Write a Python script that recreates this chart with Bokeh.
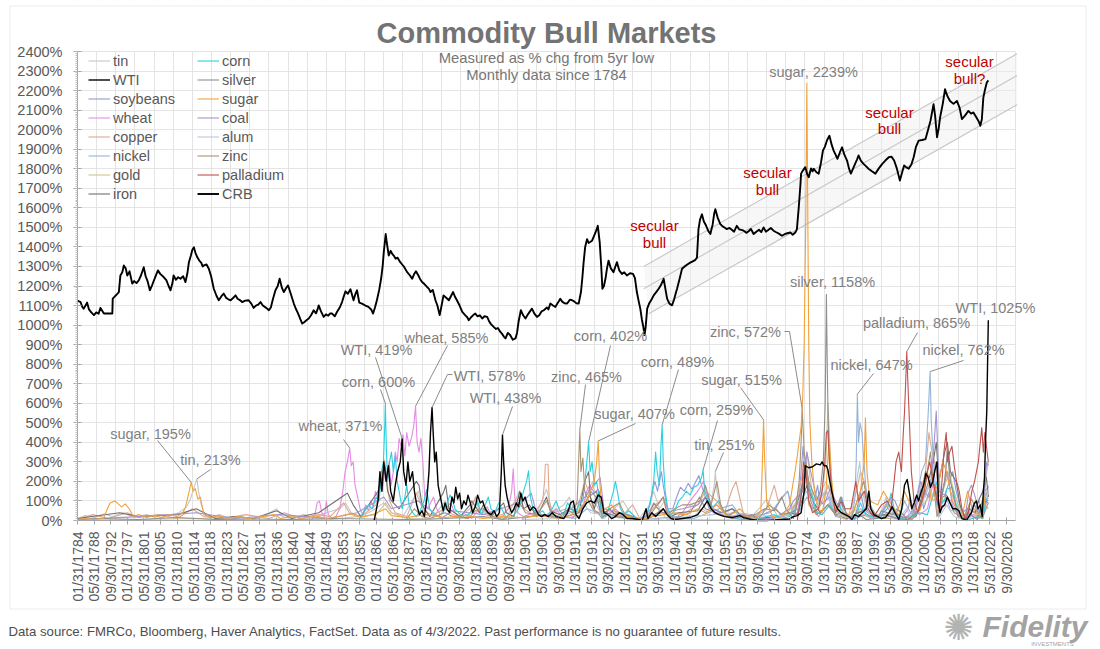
import math
from bokeh.plotting import figure
from bokeh.models import (Label, FixedTicker, SingleIntervalTicker, PrintfTickFormatter,
                          Legend, LegendItem, BoxAnnotation, Range1d)
from bokeh.embed import file_html
from bokeh.resources import INLINE

# ---------------------------------------------------------------- data
x_tick_labels = [
    "01/31/1784", "05/31/1788", "09/30/1792", "01/31/1797", "05/31/1801", "09/30/1805",
    "01/31/1810", "05/31/1814", "09/30/1818", "01/31/1823", "05/31/1827", "09/30/1831", "01/31/1836",
    "05/31/1840", "09/30/1844", "01/31/1849", "05/31/1853", "09/30/1857", "01/31/1862", "05/31/1866",
    "09/30/1870", "01/31/1875", "05/31/1879", "09/30/1883", "01/31/1888", "05/31/1892", "09/30/1896",
    "1/31/1901", "5/31/1905", "9/30/1909", "1/31/1914", "5/31/1918", "9/30/1922", "1/31/1927",
    "5/31/1931", "9/30/1935", "1/31/1940", "5/31/1944", "9/30/1948", "1/31/1953", "5/31/1957",
    "9/30/1961", "1/31/1966", "5/31/1970", "9/30/1974", "1/31/1979", "5/31/1983", "9/30/1987",
    "1/31/1992", "5/31/1996", "9/30/2000", "1/31/2005", "5/31/2009", "9/30/2013", "1/31/2018",
    "5/31/2022", "9/30/2026"]

crb = [(1784.0,1125),(1784.8,1118),(1785.2,1095),(1785.6,1084),(1786.1,1100),(1786.5,1115),(1787.0,1080),
(1787.6,1065),(1788.3,1051),(1788.9,1065),(1789.5,1058),(1790.0,1088),(1790.4,1075),(1790.9,1059),(1793.1,1059),
(1793.2,1135),(1793.9,1150),(1794.4,1160),(1794.8,1169),(1795.2,1254),(1795.7,1270),(1796.1,1305),(1796.6,1290),
(1797.0,1254),(1797.6,1275),(1798.3,1212),(1798.8,1225),(1799.4,1215),(1800.0,1229),(1800.6,1255),(1801.3,1296),
(1801.8,1250),(1802.3,1225),(1802.9,1178),(1803.5,1205),(1804.2,1240),(1805.0,1280),(1805.6,1262),(1806.5,1246),
(1807.2,1230),(1807.8,1200),(1808.3,1178),(1808.8,1215),(1809.1,1254),(1809.7,1232),(1810.3,1245),(1810.9,1237),
(1811.6,1250),(1812.2,1220),(1812.7,1265),(1813.1,1322),(1813.6,1355),(1814.0,1385),(1814.4,1398),(1814.8,1370),
(1815.3,1347),(1815.8,1330),(1816.3,1320),(1816.7,1300),(1817.0,1305),(1817.7,1310),(1818.3,1288),(1818.9,1250),
(1819.6,1186),(1820.3,1150),(1820.9,1127),(1821.6,1148),(1822.2,1161),(1822.8,1140),(1823.4,1132),(1824.0,1127),
(1824.7,1140),(1825.3,1152),(1825.8,1135),(1826.4,1128),(1827.0,1118),(1827.8,1125),(1828.7,1127),(1829.4,1110),
(1830.0,1088),(1830.6,1100),(1831.2,1105),(1831.8,1118),(1832.4,1100),(1833.0,1092),(1833.5,1085),(1834.0,1076),
(1834.5,1090),(1835.0,1130),(1835.7,1178),(1836.3,1200),(1836.8,1237),(1837.4,1190),(1837.9,1169),(1838.5,1190),
(1839.0,1203),(1839.7,1160),(1840.5,1110),(1841.0,1085),(1841.6,1060),(1842.2,1030),(1842.7,1008),(1843.2,1015),
(1843.8,1025),(1844.4,1034),(1845.0,1050),(1845.7,1076),(1846.3,1060),(1846.7,1080),(1847.0,1101),(1847.6,1070),
(1848.3,1042),(1848.9,1055),(1849.5,1048),(1850.0,1060),(1850.5,1059),(1851.2,1045),(1851.8,1068),(1852.5,1090),
(1853.1,1118),(1853.6,1150),(1854.0,1173),(1854.6,1160),(1855.3,1183),(1856.1,1127),(1856.6,1160),(1857.0,1178),
(1857.6,1115),(1858.3,1110),(1859.2,1100),(1860.0,1093),(1860.7,1080),(1861.2,1059),(1861.7,1090),(1862.2,1127),
(1862.8,1180),(1863.3,1237),(1863.7,1300),(1864.0,1373),(1864.5,1466),(1864.8,1420),(1865.3,1356),(1865.8,1380),
(1866.2,1365),(1866.6,1356),(1867.1,1340),(1867.6,1345),(1868.3,1322),(1868.8,1310),(1869.4,1295),(1870.1,1271),
(1870.8,1255),(1871.4,1237),(1871.9,1260),(1872.4,1275),(1873.0,1255),(1873.5,1235),(1874.0,1220),(1874.6,1210),
(1875.3,1195),(1875.8,1185),(1876.2,1169),(1876.8,1180),(1877.5,1127),(1878.0,1100),(1878.6,1051),(1879.1,1100),
(1879.6,1152),(1880.3,1140),(1881.0,1127),(1881.6,1150),(1882.1,1169),(1882.6,1145),(1883.1,1127),(1883.8,1100),
(1884.5,1068),(1885.3,1050),(1885.8,1040),(1886.2,1025),(1886.8,1040),(1887.3,1050),(1887.9,1059),(1888.5,1045),
(1889.1,1050),(1889.7,1034),(1890.3,1045),(1891.0,1042),(1891.5,1020),(1892.0,1005),(1892.7,991),(1893.3,980),
(1893.8,985),(1894.4,966),(1894.9,955),(1895.4,940),(1895.8,932),(1896.4,960),(1897.0,949),(1897.7,925),
(1898.4,932),(1898.8,960),(1899.2,1017),(1899.8,1076),(1900.4,1050),(1901.0,1034),(1901.5,1050),(1902.0,1065),
(1902.7,1084),(1903.3,1060),(1904.0,1042),(1904.6,1050),(1905.2,1070),(1905.8,1076),(1906.6,1090),(1907.0,1080),
(1907.5,1110),(1908.2,1100),(1908.8,1093),(1909.5,1115),(1910.1,1135),(1910.6,1120),(1911.2,1112),(1911.9,1110),
(1912.6,1130),(1913.2,1127),(1913.8,1120),(1914.3,1112),(1914.9,1110),(1915.5,1169),(1915.9,1250),(1916.2,1322),
(1916.6,1400),(1917.1,1440),(1917.5,1420),(1917.9,1425),(1918.4,1432),(1918.9,1455),(1919.3,1474),(1919.9,1508),
(1920.4,1423),(1920.8,1300),(1921.1,1186),(1921.5,1200),(1921.9,1237),(1922.3,1290),(1922.7,1330),(1923.3,1290),
(1924.0,1271),(1924.5,1300),(1924.9,1322),(1925.5,1280),(1926.2,1262),(1926.8,1270),(1927.5,1254),(1928.3,1265),
(1929.1,1262),(1929.6,1240),(1930.1,1169),(1930.6,1120),(1931.0,1084),(1931.4,1030),(1931.8,990),(1932.1,949),
(1932.4,990),(1932.8,1084),(1933.3,1110),(1933.9,1130),(1934.5,1152),(1935.2,1170),(1935.8,1186),(1936.4,1205),
(1937.1,1237),(1937.6,1180),(1938.0,1135),(1938.6,1110),(1939.3,1101),(1939.8,1130),(1940.3,1165),(1940.6,1186),
(1941.3,1240),(1941.9,1288),(1942.6,1300),(1943.3,1310),(1943.9,1318),(1944.6,1325),(1945.3,1332),(1945.8,1345),
(1946.2,1491),(1946.6,1540),(1947.1,1567),(1947.6,1530),(1948.2,1508),(1948.8,1480),(1949.3,1466),(1949.9,1515),
(1950.3,1570),(1950.6,1593),(1951.2,1550),(1951.9,1517),(1952.5,1505),(1953.1,1498),(1953.6,1491),(1954.3,1497),
(1954.9,1488),(1955.5,1478),(1956.2,1508),(1956.8,1490),(1957.4,1487),(1958.0,1483),(1958.7,1472),(1959.3,1480),
(1959.9,1492),(1960.6,1466),(1961.3,1478),(1962.0,1488),(1962.6,1476),(1963.2,1500),(1963.8,1478),(1964.5,1488),
(1965.1,1497),(1965.8,1483),(1966.5,1475),(1967.2,1468),(1968.0,1457),(1968.7,1465),(1969.4,1470),(1970.2,1474),
(1970.8,1462),(1971.5,1474),(1971.9,1490),(1972.4,1605),(1972.8,1712),(1973.0,1775),(1973.5,1792),(1974.1,1808),
(1974.6,1772),(1975.0,1757),(1975.6,1802),(1976.0,1787),(1976.3,1800),(1977.0,1782),(1977.6,1775),(1978.2,1832),
(1978.7,1893),(1979.2,1912),(1979.8,1947),(1980.4,1969),(1981.0,1922),(1981.5,1893),(1982.0,1872),(1982.5,1851),
(1983.1,1882),(1983.7,1910),(1984.3,1872),(1985.0,1842),(1985.5,1802),(1986.0,1775),(1986.6,1802),(1987.1,1825),
(1987.6,1847),(1988.0,1868),(1988.6,1842),(1989.3,1825),(1990.0,1812),(1990.6,1800),(1991.5,1787),(1992.4,1775),
(1993.3,1802),(1994.2,1825),(1995.0,1842),(1995.9,1859),(1996.6,1862),(1997.3,1842),(1998.0,1802),(1998.8,1740),
(1999.4,1782),(1999.9,1817),(2000.5,1807),(2001.1,1800),(2001.8,1822),(2002.4,1859),(2003.0,1912),(2003.7,1944),
(2004.6,1947),(2005.5,1952),(2006.2,2002),(2006.8,2046),(2007.6,2130),(2008.0,2072),(2008.5,1961),(2008.9,2002),
(2009.3,2062),(2010.0,2132),(2010.6,2207),(2011.2,2172),(2011.9,2147),(2012.8,2132),(2013.7,2147),(2014.4,2112),
(2015.0,2054),(2015.8,2072),(2016.7,2096),(2017.4,2082),(2018.0,2088),(2018.8,2062),(2019.4,2042),(2019.8,2020),
(2020.2,2052),(2020.6,2164),(2021.0,2202),(2021.5,2241),(2021.9,2252)]

tin = [(1784.0,10),(1786.0,25),(1788.5,15),(1791.0,35),(1793.0,20),(1796.0,40),(1799.0,15),(1802.0,30),
(1805.0,10),(1808.0,25),(1810.5,40),(1812.5,70),(1813.5,110),(1814.3,160),(1814.8,190),(1815.2,213),(1815.6,150),
(1816.2,90),(1817.0,40),(1818.5,15),(1821.0,30),(1824.0,10),(1827.0,20),(1830.0,5),(1833.0,25),(1836.0,60),
(1837.5,20),(1840.0,10),(1843.0,30),(1846.0,15),(1849.0,40),(1852.5,60),(1854.0,90),(1855.5,40),(1858.0,20),
(1861.0,50),(1864.0,90),(1866.0,40),(1869.0,20),(1872.0,120),(1873.0,150),(1874.0,60),(1877.0,20),(1880.0,100),
(1881.0,60),(1884.0,20),(1886.5,60),(1888.0,120),(1889.0,60),(1892.0,20),(1896.0,10),(1899.5,150),(1901.0,80),
(1904.0,40),(1906.5,160),(1908.0,40),(1911.0,80),(1912.5,120),(1914.0,30),(1916.0,80),(1918.5,200),(1919.5,80),
(1921.5,10),(1924.0,60),(1926.5,100),(1928.0,50),(1930.5,5),(1933.5,80),(1934.5,150),(1936.0,60),(1937.3,100),
(1938.5,30),(1941.0,40),(1945.0,20),(1947.0,60),(1949.0,40),(1950.3,180),(1950.6,251),(1951.0,150),(1952.0,60),
(1954.0,20),(1957.0,30),(1960.0,20),(1962.0,60),(1964.0,110),(1965.0,80),(1967.0,20),(1970.0,30),(1972.0,40),
(1974.3,250),(1975.0,120),(1977.0,100),(1979.5,200),(1980.5,150),(1982.0,40),(1985.0,20),(1987.0,5),(1989.0,150),
(1990.0,60),(1993.0,10),(1995.5,40),(1998.0,10),(2001.0,5),(2003.0,60),(2004.5,200),(2005.5,120),(2007.5,250),
(2008.3,300),(2009.0,60),(2010.5,200),(2011.2,350),(2012.0,200),(2014.0,80),(2015.8,5),(2017.0,90),(2019.0,40),
(2020.3,10),(2021.5,250),(2021.9,300)]

wti = [(1861.5,0),(1862.5,100),(1863.0,250),(1863.5,150),(1864.0,300),(1864.6,200),(1865.2,280),(1865.8,150),
(1866.5,100),(1867.0,180),(1867.6,250),(1868.3,300),(1868.8,419),(1869.2,250),(1869.8,180),(1870.3,300),
(1870.8,200),(1871.5,250),(1872.0,150),(1872.6,80),(1873.3,30),(1874.0,50),(1874.6,20),(1875.3,120),(1875.8,250),
(1876.2,450),(1876.6,578),(1876.9,450),(1877.3,300),(1877.7,350),(1878.2,180),(1878.8,120),(1879.5,50),(1880.0,90),
(1880.5,60),(1881.2,40),(1881.8,120),(1882.3,90),(1882.8,170),(1883.3,110),(1883.8,140),(1884.3,60),(1884.9,100),
(1885.5,80),(1886.0,130),(1886.6,90),(1887.2,40),(1887.9,70),(1888.5,130),(1889.2,90),(1889.8,100),(1890.5,60),
(1891.2,40),(1892.0,30),(1892.8,50),(1893.5,20),(1894.2,40),(1894.7,250),(1895.0,438),(1895.3,300),(1895.7,180),
(1896.2,120),(1896.8,70),(1897.4,40),(1898.0,60),(1898.6,90),(1899.2,70),(1899.8,140),(1900.3,100),(1900.9,120),
(1901.5,80),(1902.2,50),(1903.0,70),(1903.6,60),(1904.4,30),(1905.2,20),(1906.0,30),(1907.0,20),(1908.0,40),
(1909.0,20),(1910.0,15),(1911.0,10),(1912.0,40),(1912.8,90),(1913.5,100),(1914.2,30),(1915.0,10),(1916.0,60),
(1917.0,90),(1918.0,100),(1919.0,90),(1920.0,130),(1920.8,120),(1921.5,40),(1922.5,30),(1923.5,10),(1924.5,20),
(1925.5,40),(1926.5,30),(1927.5,10),(1929.0,10),(1930.5,5),(1931.5,0),(1932.5,60),(1933.0,10),(1934.0,40),
(1935.0,20),(1936.0,40),(1937.0,60),(1938.0,30),(1939.0,10),(1940.0,5),(1942.0,10),(1944.0,15),(1946.0,30),
(1947.5,70),(1948.5,100),(1949.5,60),(1950.5,40),(1951.5,30),(1953.0,20),(1955.0,15),(1957.0,25),(1958.0,15),
(1960.0,5),(1962.0,0),(1964.0,0),(1966.0,3),(1968.0,5),(1970.0,8),(1971.0,20),(1972.0,25),(1973.0,40),(1973.8,150),
(1974.1,280),(1975.0,270),(1976.0,275),(1977.0,290),(1978.0,285),(1978.5,300),(1979.0,280),(1979.6,280),
(1980.0,260),(1980.5,200),(1981.0,150),(1981.6,100),(1982.5,60),(1983.5,40),(1984.5,30),(1985.5,20),(1986.3,5),
(1987.0,30),(1988.0,20),(1989.0,40),(1990.0,60),(1990.7,150),(1991.2,60),(1992.0,30),(1993.0,20),(1994.0,10),
(1995.0,15),(1996.0,40),(1996.8,70),(1997.5,40),(1998.5,5),(1999.3,60),(2000.0,180),(2000.7,210),(2001.3,140),
(2001.9,60),(2002.5,90),(2003.2,130),(2003.7,100),(2004.4,150),(2005.0,180),(2005.6,240),(2006.2,220),
(2006.8,170),(2007.4,200),(2008.0,260),(2008.5,300),(2008.9,90),(2009.3,40),(2009.8,70),(2010.5,80),(2011.2,120),
(2011.9,90),(2012.6,60),(2013.5,60),(2014.2,50),(2015.0,10),(2015.8,5),(2016.2,0),(2016.8,20),(2017.5,40),
(2018.3,90),(2018.8,100),(2019.2,60),(2019.8,80),(2020.3,20),(2020.6,150),(2020.9,220),(2021.2,420),(2021.5,560),
(2021.7,800),(2021.9,1025)]

soybeans = [(1913.0,10),(1916.0,60),(1918.0,150),(1919.5,120),(1921.0,20),(1925.0,40),(1928.0,30),(1931.0,5),
(1933.0,50),(1934.8,200),(1935.5,150),(1936.5,250),(1937.0,180),(1938.0,60),(1939.5,60),(1940.5,120),
(1941.5,170),(1942.5,150),(1943.5,190),(1944.5,160),(1945.5,200),(1946.3,230),(1947.0,180),(1948.0,120),
(1949.0,60),(1951.0,80),(1953.0,40),(1955.0,60),(1957.0,20),(1960.0,10),(1962.0,20),(1964.0,40),(1966.5,60),
(1968.0,20),(1970.0,30),(1972.5,120),(1973.5,380),(1974.0,250),(1975.0,150),(1976.5,100),(1977.3,180),
(1978.0,80),(1980.5,120),(1982.0,40),(1983.6,120),(1985.0,20),(1987.0,10),(1988.5,140),(1989.5,60),(1992.0,10),
(1994.0,40),(1996.5,120),(1997.5,100),(1999.5,10),(2001.0,20),(2003.5,100),(2004.3,160),(2005.0,60),
(2007.0,180),(2008.3,300),(2009.0,150),(2010.5,130),(2012.6,250),(2013.5,150),(2015.0,40),(2016.5,60),
(2018.0,20),(2019.5,10),(2021.0,150),(2021.9,170)]

wheat = [(1845.0,0),(1846.0,30),(1846.6,90),(1847.2,100),(1847.8,40),(1848.5,20),(1849.0,100),(1849.5,30),
(1850.5,10),(1851.5,20),(1852.5,60),(1853.3,150),(1853.9,250),(1854.5,300),(1855.1,371),(1855.5,280),
(1856.0,300),(1856.5,180),(1857.2,120),(1857.8,60),(1858.5,30),(1859.3,80),(1860.0,50),(1860.6,100),
(1861.3,70),(1861.8,150),(1862.4,120),(1863.0,200),(1863.6,150),(1864.2,250),(1864.8,220),(1865.4,300),
(1865.9,180),(1866.5,250),(1867.0,350),(1867.5,300),(1868.0,420),(1868.5,380),(1869.0,440),(1869.5,330),
(1870.0,450),(1870.6,380),(1871.2,420),(1871.8,480),(1872.3,585),(1872.7,400),(1873.2,350),(1873.7,420),
(1874.2,300),(1874.7,120),(1875.3,60),(1876.0,80),(1877.0,120),(1877.8,60),(1878.8,30),(1880.0,60),(1881.5,90),
(1882.5,40),(1884.0,20),(1885.5,30),(1887.0,10),(1888.5,50),(1889.5,30),(1891.0,70),(1892.0,30),(1893.5,10),
(1895.0,20),(1896.5,60),(1897.4,150),(1897.8,264),(1898.2,120),(1899.0,40),(1900.5,20),(1902.0,30),(1904.5,50),
(1905.5,20),(1907.5,40),(1909.0,60),(1910.5,20),(1912.0,15),(1914.0,20),(1915.0,100),(1916.0,60),(1917.0,150),
(1917.8,180),(1919.0,140),(1920.0,160),(1920.8,60),(1922.0,20),(1924.5,60),(1925.5,40),(1927.0,20),(1929.0,10),
(1931.0,0),(1933.0,40),(1934.5,80),(1936.0,90),(1937.0,120),(1938.5,20),(1940.0,10),(1942.0,40),(1944.0,100),
(1946.0,150),(1947.5,200),(1948.5,130),(1950.0,40),(1952.0,30),(1955.0,10),(1958.0,5),(1961.0,5),(1964.0,10),
(1967.0,15),(1970.0,5),(1972.0,40),(1973.5,200),(1974.2,280),(1975.0,180),(1976.0,100),(1977.5,20),(1979.0,60),
(1980.5,90),(1982.0,30),(1984.0,20),(1986.0,5),(1988.5,60),(1989.5,50),(1991.0,10),(1994.0,30),(1996.3,110),
(1997.5,30),(1999.5,5),(2002.5,50),(2004.0,30),(2006.0,60),(2007.6,200),(2008.2,150),(2009.0,40),(2010.5,80),
(2011.0,110),(2012.5,100),(2014.0,40),(2016.0,5),(2018.0,30),(2020.0,20),(2021.0,60),(2021.9,130)]

copper = [(1784.0,5),(1788.0,30),(1792.0,10),(1797.0,40),(1800.0,15),(1805.0,30),(1810.0,10),(1814.0,60),
(1817.0,20),(1822.0,10),(1828.0,30),(1834.0,10),(1838.0,40),(1842.0,10),(1847.0,30),(1850.0,20),(1853.5,90),
(1855.0,40),(1858.0,20),(1862.0,80),(1863.5,200),(1864.2,310),(1864.8,200),(1865.5,100),(1867.0,40),(1870.0,20),
(1872.5,140),(1873.5,90),(1876.0,20),(1880.0,60),(1882.0,30),(1886.0,10),(1888.0,120),(1889.0,40),(1892.0,20),
(1895.0,30),(1899.5,120),(1900.5,60),(1903.0,30),(1905.5,100),(1906.0,200),(1906.2,288),(1906.9,288),
(1907.2,100),(1908.0,40),(1912.0,60),(1914.0,20),(1916.5,200),(1917.5,150),(1919.0,40),(1923.0,50),(1926.0,20),
(1929.0,80),(1931.0,5),(1933.0,30),(1937.0,120),(1938.0,40),(1942.0,30),(1946.0,80),(1948.0,150),(1951.0,100),
(1953.0,40),(1955.0,160),(1956.0,200),(1958.0,30),(1961.0,20),(1964.0,60),(1966.0,180),(1967.0,100),(1969.5,150),
(1971.0,40),(1973.5,250),(1974.3,300),(1975.0,80),(1977.0,30),(1979.5,150),(1980.2,180),(1982.0,20),(1985.0,5),
(1987.5,150),(1988.5,250),(1989.5,200),(1991.0,60),(1993.0,20),(1995.0,80),(1996.5,40),(1999.0,5),(2002.0,10),
(2004.0,120),(2005.5,250),(2006.4,450),(2007.2,350),(2008.5,250),(2009.0,30),(2010.5,200),(2011.1,250),
(2012.0,150),(2014.0,60),(2016.0,5),(2018.0,60),(2019.5,30),(2020.3,10),(2021.4,120),(2021.9,110)]

nickel = [(1900.0,10),(1905.0,30),(1910.0,20),(1914.0,10),(1917.0,60),(1920.0,40),(1925.0,15),(1930.0,5),
(1935.0,10),(1940.0,20),(1945.0,10),(1950.0,50),(1955.0,80),(1957.0,30),(1960.0,20),(1965.0,40),(1969.5,150),
(1970.5,60),(1972.0,30),(1974.5,120),(1976.0,60),(1979.5,150),(1980.5,100),(1982.0,20),(1984.0,30),(1986.0,10),
(1987.0,100),(1987.4,300),(1987.7,647),(1988.0,400),(1988.4,500),(1988.9,450),(1989.4,300),(1990.0,150),
(1991.0,80),(1992.5,30),(1994.0,20),(1995.5,100),(1997.0,40),(1998.5,10),(2000.0,100),(2001.0,60),(2002.0,30),
(2003.5,150),(2004.5,250),(2005.5,300),(2006.2,550),(2006.7,762),(2007.0,500),(2007.6,300),(2008.5,60),
(2009.0,20),(2010.0,100),(2011.0,120),(2012.0,50),(2014.0,50),(2015.5,10),(2016.0,5),(2018.0,80),(2019.5,100),
(2020.3,40),(2021.0,90),(2021.9,180)]

gold = [(1784.0,0),(1800.0,5),(1815.0,10),(1830.0,0),(1850.0,5),(1862.0,30),(1864.5,90),(1866.0,40),(1870.0,10),
(1880.0,0),(1933.0,0),(1934.2,70),(1936.0,60),(1938.0,5),(1968.0,0),(1969.0,30),(1972.0,100),(1973.5,200),
(1974.5,350),(1975.5,200),(1976.5,60),(1978.0,100),(1979.5,300),(1980.0,600),(1980.5,400),(1981.0,200),
(1982.0,50),(1983.0,80),(1985.0,10),(1987.5,60),(1990.0,20),(1993.0,10),(1996.0,10),(1999.0,5),(2002.0,20),
(2004.0,60),(2006.4,120),(2008.0,150),(2009.5,120),(2011.7,250),(2012.5,180),(2014.0,80),(2016.0,20),
(2018.0,10),(2020.5,90),(2021.9,60)]

iron = [(1784.0,10),(1795.0,40),(1800.0,20),(1810.0,30),(1815.0,60),(1820.0,10),(1825.0,20),(1830.0,10),
(1836.0,50),(1840.0,10),(1847.0,40),(1853.0,120),(1854.5,140),(1856.0,80),(1858.0,20),(1862.5,150),(1864.3,280),
(1865.0,150),(1866.0,100),(1868.0,60),(1872.5,200),(1873.2,180),(1874.0,80),(1876.0,20),(1879.5,140),
(1880.2,180),(1881.0,60),(1884.0,20),(1886.5,80),(1887.0,100),(1889.0,40),(1890.0,80),(1892.0,20),(1895.3,90),
(1896.0,40),(1898.0,20),(1899.5,150),(1900.5,60),(1902.0,80),(1904.0,20),(1906.5,120),(1907.5,50),(1910.0,30),
(1912.5,60),(1915.0,40),(1916.5,200),(1917.5,250),(1918.0,120),(1919.0,60),(1920.2,150),(1921.0,30),(1923.0,60),
(1925.0,20),(1929.0,20),(1932.0,0),(1934.0,20),(1937.0,60),(1939.0,20),(1941.0,40),(1946.0,50),(1948.0,120),
(1950.0,60),(1952.0,40),(1955.0,60),(1958.0,20),(1962.0,10),(1966.0,20),(1970.0,40),(1972.0,30),(1974.5,180),
(1976.0,100),(1978.0,40),(1980.0,80),(1982.0,30),(1985.0,10),(1988.0,40),(1990.0,60),(1992.0,20),(1995.0,30),
(1998.0,10),(2001.0,5),(2003.0,20),(2004.5,120),(2005.5,250),(2006.5,220),(2007.5,300),(2008.3,400),
(2009.0,200),(2010.5,350),(2011.2,400),(2012.0,250),(2013.5,200),(2014.5,80),(2015.8,10),(2017.0,60),
(2018.5,40),(2019.5,110),(2020.5,150),(2021.4,220),(2021.9,120)]

corn = [(1858.0,20),(1859.0,50),(1860.0,80),(1861.0,60),(1862.0,120),(1862.8,100),(1863.4,250),(1863.9,300),
(1864.2,450),(1864.4,600),(1864.7,350),(1865.0,200),(1865.5,300),(1866.0,350),(1866.5,250),(1867.0,330),
(1867.5,200),(1868.0,150),(1868.8,60),(1869.5,120),(1870.0,180),(1870.6,80),(1871.5,40),(1872.5,20),(1873.5,50),
(1874.5,100),(1875.2,160),(1876.0,60),(1877.0,30),(1878.0,20),(1879.5,40),(1880.5,90),(1881.3,130),(1882.0,100),
(1882.6,60),(1883.5,40),(1884.5,20),(1886.0,30),(1887.5,60),(1888.5,100),(1889.5,30),(1890.5,80),(1891.3,120),
(1892.0,60),(1893.0,40),(1894.0,90),(1894.8,60),(1895.8,20),(1897.0,10),(1898.5,40),(1899.5,70),(1900.5,150),
(1901.3,200),(1901.8,254),(1902.3,120),(1903.0,60),(1904.0,30),(1905.5,50),(1906.5,20),(1908.0,60),(1909.0,100),
(1910.0,50),(1911.0,30),(1912.0,90),(1913.0,60),(1914.0,40),(1915.0,80),(1916.0,100),(1916.8,250),(1917.5,402),
(1917.9,250),(1918.4,300),(1919.0,180),(1919.6,200),(1920.2,120),(1921.0,30),(1922.0,20),(1923.0,80),
(1924.0,150),(1924.5,200),(1925.0,150),(1925.8,60),(1926.8,30),(1928.0,50),(1929.5,20),(1931.0,0),(1932.5,20),
(1933.5,80),(1934.5,200),(1935.0,350),(1935.4,250),(1936.0,180),(1936.4,380),(1936.7,489),(1937.0,300),
(1937.5,150),(1938.2,60),(1939.0,30),(1940.0,50),(1941.0,100),(1942.0,120),(1943.0,150),(1944.0,130),
(1945.0,170),(1946.0,180),(1947.0,220),(1947.4,259),(1947.8,150),(1948.5,120),(1949.5,60),(1950.5,80),
(1951.5,100),(1952.5,60),(1954.0,20),(1956.0,10),(1958.0,5),(1960.0,0),(1962.0,10),(1964.0,20),(1966.0,30),
(1968.0,10),(1970.0,20),(1971.0,50),(1972.5,60),(1973.5,200),(1974.5,250),(1975.0,180),(1976.0,120),(1977.0,40),
(1978.5,30),(1980.5,80),(1981.0,60),(1983.0,40),(1983.7,100),(1985.0,20),(1987.0,5),(1988.5,90),(1989.5,40),
(1991.0,20),(1993.0,10),(1995.5,60),(1996.5,140),(1997.5,40),(1999.5,5),(2002.0,20),(2004.0,40),(2006.0,30),
(2007.0,100),(2008.5,200),(2009.0,80),(2010.5,100),(2011.0,160),(2012.5,170),(2013.5,80),(2015.0,20),
(2017.0,5),(2019.0,20),(2020.5,10),(2021.3,110),(2021.9,100)]

silver = [(1784.0,5),(1790.0,10),(1800.0,5),(1810.0,15),(1820.0,5),(1830.0,8),(1840.0,5),(1850.0,10),(1860.0,8),
(1870.0,5),(1880.0,10),(1890.0,20),(1895.0,5),(1900.0,15),(1906.0,30),(1910.0,10),(1915.0,40),(1917.5,120),
(1919.5,150),(1920.5,50),(1925.0,20),(1930.0,5),(1933.0,20),(1934.5,90),(1936.0,50),(1940.0,10),(1944.0,40),
(1946.5,120),(1948.0,60),(1951.0,40),(1955.0,10),(1961.0,30),(1963.5,60),(1966.0,50),(1968.0,120),(1969.0,60),
(1971.0,10),(1973.5,200),(1974.2,300),(1975.0,200),(1976.0,150),(1977.0,100),(1978.0,150),(1978.8,300),
(1979.3,600),(1979.6,1158),(1979.9,700),(1980.2,400),(1980.6,250),(1981.2,120),(1982.0,40),(1983.3,120),
(1984.0,60),(1986.0,10),(1987.5,40),(1990.0,5),(1993.0,10),(1994.0,50),(1997.0,30),(1998.0,60),(2001.0,5),
(2004.0,60),(2006.3,200),(2008.0,180),(2009.0,60),(2010.5,200),(2011.2,350),(2012.0,200),(2014.0,20),
(2016.0,10),(2016.5,40),(2019.0,5),(2020.6,120),(2021.2,100),(2021.9,90)]

sugar = [(1784.0,5),(1786.0,10),(1788.0,5),(1790.8,10),(1791.8,60),(1792.5,90),(1793.8,100),(1794.6,85),
(1795.5,70),(1796.5,85),(1797.5,60),(1798.6,20),(1800.0,30),(1802.0,15),(1804.0,25),(1806.0,15),(1808.0,30),
(1810.0,20),(1811.5,40),(1812.2,68),(1813.1,144),(1813.7,195),(1814.2,150),(1814.8,163),(1815.4,110),
(1816.1,119),(1817.0,30),(1819.0,15),(1821.0,25),(1823.0,10),(1826.0,20),(1829.0,10),(1832.0,20),(1835.5,30),
(1837.0,10),(1840.0,20),(1843.0,10),(1846.0,25),(1849.0,10),(1852.0,20),(1855.0,35),(1858.0,15),(1861.0,30),
(1864.5,60),(1866.0,25),(1870.0,15),(1875.0,30),(1880.0,15),(1885.0,25),(1890.0,10),(1895.0,20),(1900.0,15),
(1905.0,25),(1910.0,10),(1914.5,40),(1916.0,80),(1917.0,100),(1918.0,150),(1919.0,200),(1919.6,300),
(1920.0,407),(1920.4,200),(1921.0,50),(1923.5,80),(1925.0,30),(1928.0,20),(1931.0,5),(1934.0,20),(1937.0,30),
(1940.0,40),(1943.0,30),(1946.0,60),(1948.0,40),(1951.0,80),(1954.0,20),(1957.0,60),(1959.0,20),(1961.0,10),
(1962.5,50),(1962.9,300),(1963.2,515),(1963.5,300),(1964.0,100),(1965.5,20),(1967.5,10),(1970.0,80),
(1970.8,180),(1971.5,260),(1972.0,330),(1972.6,420),(1973.0,480),(1973.4,620),(1973.8,900),(1974.2,1500),
(1974.5,2239),(1974.7,1700),(1975.0,900),(1975.3,500),(1975.8,300),(1976.5,150),(1977.5,60),(1978.5,40),
(1979.5,150),(1980.3,420),(1980.8,250),(1981.5,80),(1983.0,40),(1985.0,20),(1987.0,60),(1988.5,150),
(1989.5,300),(1989.8,525),(1990.2,250),(1991.0,100),(1993.0,80),(1994.5,150),(1996.0,100),(1998.0,40),
(2000.0,150),(2002.0,60),(2004.0,50),(2006.0,250),(2007.0,100),(2009.0,200),(2010.0,300),(2011.0,250),
(2012.5,100),(2015.0,20),(2016.5,150),(2018.0,40),(2019.5,30),(2020.3,20),(2021.2,140),(2021.9,150)]

coal = [(1784.0,5),(1800.0,20),(1815.0,40),(1825.0,10),(1837.0,30),(1850.0,10),(1857.0,40),(1864.0,120),
(1866.0,60),(1873.0,100),(1879.0,10),(1882.0,50),(1890.0,30),(1900.5,100),(1902.5,140),(1904.0,30),(1910.0,10),
(1916.5,120),(1918.0,160),(1920.5,220),(1921.5,60),(1926.0,40),(1930.0,5),(1934.0,30),(1937.0,40),(1942.0,60),
(1946.0,80),(1948.5,130),(1950.0,60),(1955.0,20),(1958.0,30),(1962.0,5),(1966.0,10),(1970.0,60),(1971.0,100),
(1973.5,150),(1974.5,350),(1975.5,250),(1977.0,120),(1979.0,80),(1980.5,160),(1982.0,100),(1984.0,40),
(1987.0,10),(1990.0,30),(1993.0,10),(1996.0,20),(1999.0,5),(2001.0,60),(2001.5,120),(2002.5,40),(2004.2,200),
(2005.0,150),(2006.5,120),(2007.6,350),(2008.3,560),(2008.8,300),(2009.5,100),(2010.5,200),(2011.2,250),
(2012.5,80),(2014.0,30),(2015.8,5),(2016.8,150),(2017.5,180),(2018.5,120),(2019.5,40),(2020.3,10),(2021.5,300),
(2021.9,280)]

alum = [(1900.0,5),(1910.0,10),(1916.5,80),(1918.0,40),(1925.0,20),(1935.0,5),(1950.0,30),(1956.0,40),
(1965.0,20),(1970.0,30),(1974.5,150),(1976.0,100),(1979.5,150),(1980.5,130),(1982.0,30),(1986.0,10),
(1988.3,300),(1989.0,150),(1991.0,20),(1993.5,10),(1995.2,120),(1996.0,60),(1999.0,20),(2000.5,60),(2002.0,10),
(2004.5,80),(2006.4,180),(2007.5,100),(2008.5,120),(2009.2,20),(2011.0,80),(2013.0,20),(2015.5,5),(2018.3,80),
(2020.3,10),(2021.9,160)]

zinc = [(1870.0,10),(1872.0,60),(1874.0,20),(1876.0,10),(1880.0,40),(1882.0,20),(1886.0,10),(1888.0,50),
(1890.0,60),(1892.0,20),(1895.0,5),(1897.0,30),(1899.5,90),(1901.0,40),(1904.0,30),(1906.5,100),(1908.0,30),
(1910.0,20),(1912.0,50),(1913.5,40),(1914.5,100),(1914.9,300),(1915.2,465),(1915.5,250),(1916.0,320),
(1916.5,150),(1917.5,100),(1918.5,60),(1920.0,40),(1921.0,10),(1923.0,60),(1925.5,90),(1927.0,30),(1929.0,20),
(1931.0,0),(1932.5,5),(1934.0,40),(1937.0,120),(1938.0,30),(1940.0,60),(1942.0,80),(1944.0,80),(1946.5,100),
(1948.0,180),(1949.5,80),(1951.0,200),(1952.0,80),(1953.5,20),(1956.0,50),(1958.0,10),(1960.0,30),(1962.0,10),
(1964.5,80),(1966.0,60),(1968.0,30),(1970.0,40),(1971.5,50),(1972.5,200),(1973.0,400),(1973.3,572),(1973.8,350),
(1974.5,250),(1975.5,100),(1977.0,30),(1979.0,60),(1980.0,80),(1982.0,30),(1984.0,40),(1986.0,10),(1988.5,150),
(1989.3,200),(1990.5,80),(1992.0,40),(1994.0,10),(1997.0,60),(1999.0,20),(2002.0,5),(2004.0,60),(2005.5,200),
(2006.8,350),(2007.5,200),(2008.5,20),(2010.0,120),(2011.0,130),(2013.0,40),(2015.5,10),(2017.5,110),
(2019.5,30),(2020.3,10),(2021.9,90)]

palladium = [(1972.0,0),(1973.2,150),(1973.6,300),(1974.2,250),(1975.0,100),(1976.0,40),(1977.5,60),(1978.5,150),
(1979.2,300),(1979.6,450),(1980.0,460),(1980.4,300),(1981.0,150),(1982.0,40),(1983.5,100),(1984.5,60),
(1986.0,60),(1987.3,200),(1988.0,100),(1989.5,150),(1990.5,60),(1992.0,20),(1994.0,80),(1995.5,100),
(1996.5,60),(1997.3,200),(1997.8,300),(1998.5,350),(1999.2,250),(1999.7,450),(2000.0,550),(2000.3,700),
(2000.6,865),(2000.9,700),(2001.3,500),(2001.8,250),(2002.5,100),(2003.5,40),(2004.5,100),(2005.2,150),
(2006.0,250),(2006.6,300),(2007.5,200),(2008.5,100),(2009.2,50),(2009.8,200),(2010.3,350),(2010.9,450),
(2011.3,300),(2011.8,350),(2012.4,380),(2013.0,280),(2013.6,200),(2014.3,150),(2015.0,60),(2016.0,5),
(2016.8,50),(2017.6,150),(2018.3,200),(2018.8,250),(2019.3,300),(2019.8,400),(2020.2,475),(2020.6,350),
(2021.0,450),(2021.4,380),(2021.9,300)]

# trend channel (secular bull channel)
channel_t = [1931.9, 2029.4]
channel_upper = [1300, 2388]
channel_mid = [1186, 2277]
channel_low_t = [1933.2, 2029.4]
channel_lower = [1058, 2127]

# ---------------------------------------------------------------- styles / layout
SERIES = {"tin": tin, "WTI": wti, "soybeans": soybeans, "wheat": wheat, "copper": copper,
          "nickel": nickel, "gold": gold, "iron": iron, "corn": corn, "silver": silver,
          "sugar": sugar, "coal": coal, "alum": alum, "zinc": zinc, "palladium": palladium,
          "CRB": crb}
COLORS = {"tin": "#c7c7c7", "WTI": "#000000", "soybeans": "#8e9ad8", "wheat": "#e58be5",
          "copper": "#e0a88f", "nickel": "#96b4d8", "gold": "#cfc48a", "iron": "#707070",
          "corn": "#2ad0e0", "silver": "#8f8f8f", "sugar": "#f2a23c", "coal": "#a493d2",
          "alum": "#b9c8d8", "zinc": "#a89373", "palladium": "#c0504d", "CRB": "#000000"}
WIDTHS = {k: 1.1 for k in COLORS}
WIDTHS["WTI"] = 1.4
WIDTHS["CRB"] = 1.9
DRAW_ORDER = ["tin", "soybeans", "wheat", "copper", "nickel", "gold", "iron", "coal", "alum",
              "corn", "silver", "zinc", "sugar", "palladium", "WTI", "CRB"]
LEG_COL1 = ["tin", "WTI", "soybeans", "wheat", "copper", "nickel", "gold", "iron"]
LEG_COL2 = ["corn", "silver", "sugar", "coal", "alum", "zinc", "palladium", "CRB"]

W, H = 1100, 649
FL, FR, FT, FB = 77, 1015, 51, 520   # data area edges in page pixels
X_SPAN = 2940                          # months from Jan 1784 shown on the axis
Y_SPAN = 2400
FONT = "Liberation Sans"


def to_m(year):
    return (year - 1784.0) * 12.0


def dx(X):
    return (X - FL) * X_SPAN / (FR - FL)


def dy(Y):
    return (FB - Y) * Y_SPAN / (FB - FT)


p = figure(width=W, height=H, output_backend="svg", toolbar_location=None,
           x_range=Range1d(dx(0), dx(W)), y_range=Range1d(dy(H), dy(0)), min_border=0)
p.outline_line_color = None
p.background_fill_color = "white"
p.border_fill_color = "white"

# axes (fixed at the data origin, bounded to the data area)
def tick_pos(lbl):
    mo, _, yr = lbl.split("/")
    return (int(yr) - 1784) * 12 + int(mo) - 1

xt = [tick_pos(s) for s in x_tick_labels]
p.xaxis.fixed_location = 0
p.yaxis.fixed_location = 0
p.xaxis.bounds = (0, X_SPAN)
p.yaxis.bounds = (0, Y_SPAN)
p.xaxis.ticker = FixedTicker(ticks=xt)
p.xaxis.major_label_overrides = {t: s for t, s in zip(xt, x_tick_labels)}
p.xaxis.major_label_orientation = math.pi / 2
p.xaxis.major_label_text_font = FONT
p.xaxis.major_label_text_font_size = "14px"
p.xaxis.major_label_text_color = "#595959"
p.xaxis.major_label_standoff = 7
p.xaxis.axis_line_color = "#a6a6a6"
p.xaxis.major_tick_line_color = "#a6a6a6"
p.xaxis.major_tick_out = 4
p.xaxis.major_tick_in = 3
p.xaxis.minor_tick_line_color = None

p.yaxis.ticker = SingleIntervalTicker(interval=100, num_minor_ticks=10)
p.yaxis.formatter = PrintfTickFormatter(format="%d%%")
p.yaxis.major_label_text_font = FONT
p.yaxis.major_label_text_font_size = "14.5px"
p.yaxis.major_label_text_color = "#595959"
p.yaxis.major_label_standoff = 11
p.yaxis.axis_line_color = "#a6a6a6"
p.yaxis.major_tick_line_color = "#a6a6a6"
p.yaxis.minor_tick_line_color = "#bfbfbf"
p.yaxis.major_tick_out = 4
p.yaxis.major_tick_in = 4
p.yaxis.minor_tick_out = 2
p.yaxis.minor_tick_in = 0

p.xgrid.ticker = FixedTicker(ticks=[60 * k for k in range(50)])
p.xgrid.grid_line_color = "#e4e4e4"
p.ygrid.grid_line_color = "#e4e4e4"

# white masks so the grid only shows inside the data area
p.quad(left=[dx(0), dx(FR + 0.5), dx(FL - 0.5), dx(FL - 0.5)],
       right=[dx(FL - 0.5), dx(W), dx(FR + 0.5), dx(FR + 0.5)],
       bottom=[dy(H), dy(H), dy(FT - 0.5), dy(H)],
       top=[dy(0), dy(0), dy(0), dy(FB + 0.5)],
       fill_color="white", line_color=None)

# channel band + lines
band_x = [to_m(t) for t in channel_t] + [to_m(t) for t in channel_low_t[::-1]]
band_y = channel_upper + channel_lower[::-1]
p.patch(band_x, band_y, fill_color="#eeeeee", fill_alpha=0.45, line_color=None)
for ts, vs in ((channel_t, channel_upper), (channel_t, channel_mid), (channel_low_t, channel_lower)):
    p.line([to_m(t) for t in ts], vs, line_color="#c6c6c6", line_width=1.1)

renderers = {}
for name in DRAW_ORDER:
    pts = SERIES[name]
    r = p.line([to_m(t) for t, _ in pts], [v for _, v in pts], line_color=COLORS[name],
               line_width=WIDTHS[name], line_join="round")
    renderers[name] = r

# legends (two columns); location measured from the canvas bottom-left
for names, xleft in ((LEG_COL1, 88), (LEG_COL2, 197)):
    leg = Legend(items=[LegendItem(label=n, renderers=[renderers[n]]) for n in names],
                 location=(xleft, H - 203), orientation="vertical", padding=0, margin=0, spacing=0,
                 glyph_width=22, glyph_height=19, label_height=19, label_standoff=3,
                 label_text_font=FONT, label_text_font_size="14.5px", label_text_color="#595959",
                 border_line_color=None, background_fill_alpha=0)
    p.add_layout(leg)


def add_text(txt, X, Y, size, color, align="center", style="normal", font=FONT):
    p.add_layout(Label(x=dx(X), y=dy(Y), text=txt, text_align=align, text_baseline="middle",
                       text_font_size=f"{size}px", text_color=color, text_font=font,
                       text_font_style=style))


def peak(name, year):
    return min(SERIES[name], key=lambda q: abs(q[0] - year))


# annotations: text, series, peak year, text centre (px), leader start points (px)
ANNOTS = [
    ("sugar, 195%", "sugar", 1813.7, 150, 433, [(157, 440)]),
    ("tin, 213%", "tin", 1815.2, 210, 459, [(210, 469)]),
    ("wheat, 371%", "wheat", 1855.1, 340, 425, [(343, 439)]),
    ("corn, 600%", "corn", 1864.4, 378, 381, [(380, 389)]),
    ("WTI, 419%", "WTI", 1868.8, 376, 349, [(375, 357)]),
    ("wheat, 585%", "wheat", 1872.3, 446, 337, [(447, 345)]),
    ("WTI, 578%", "WTI", 1876.6, 489, 375, [(452, 374), (447, 374)]),
    ("WTI, 438%", "WTI", 1895.0, 505, 397, [(512, 406)]),
    ("corn, 402%", "corn", 1917.5, 610, 335, [(610, 345)]),
    ("zinc, 465%", "zinc", 1915.2, 586, 376, [(585, 384)]),
    ("sugar, 407%", "sugar", 1920.0, 634, 413, [(635, 423)]),
    ("corn, 489%", "corn", 1936.7, 677, 361, [(678, 369)]),
    ("corn, 259%", "corn", 1947.4, 716, 409, [(717, 420)]),
    ("tin, 251%", "tin", 1950.6, 724, 444, [(723, 452)]),
    ("sugar, 515%", "sugar", 1963.2, 741, 379, [(740, 387)]),
    ("zinc, 572%", "zinc", 1973.3, 745, 331, [(784, 331), (789, 331)]),
    ("sugar, 2239%", "sugar", 1974.5, 813, 71, []),
    ("silver, 1158%", "silver", 1979.6, 832, 281, []),
    ("nickel, 647%", "nickel", 1987.7, 871, 364, [(873, 373)]),
    ("palladium, 865%", "palladium", 2000.6, 916, 322, [(917, 332)]),
    ("nickel, 762%", "nickel", 2006.7, 963, 349, [(963, 360)]),
    ("WTI, 1025%", "WTI", 2021.9, 995, 307, []),
]
for txt, ser, yr, tx, ty, lead in ANNOTS:
    if lead:
        pt = peak(ser, yr)
        xs = [dx(X) for X, _ in lead] + [to_m(pt[0])]
        ys = [dy(Y) for _, Y in lead] + [pt[1]]
        p.line(xs, ys, line_color="#8c8c8c", line_width=1)
    add_text(txt, tx, ty, 14.5, "#7f7f7f")

RED = [("secular", 654, 225), ("bull", 654, 242), ("secular", 767, 172), ("bull", 767, 188.5),
       ("secular", 889, 112), ("bull", 889, 128), ("secular", 969, 61), ("bull?", 969, 77.5)]
for txt, X, Y in RED:
    add_text(txt, X, Y, 15, "#c00000")

# titles
add_text("Commodity Bull Markets", 546, 32, 29, "#737373", style="bold")
add_text("Measured as % chg from 5yr low", 546, 57, 14.8, "#767676")
add_text("Monthly data since 1784", 546, 74, 14.8, "#767676")

# footer
add_text("Data source: FMRCo, Bloomberg, Haver Analytics, FactSet. Data as of 4/3/2022. "
         "Past performance is no guarantee of future results.", 8, 631, 13.2, "#4d4d4d", align="left")
add_text("\u273a", 958, 627, 36, "#b3b3b3", font="DejaVu Sans")
add_text("Fidelity", 982, 626, 30, "#a3a3a3", align="left", style="bold italic")
add_text("INVESTMENTS", 1052, 643, 6, "#a3a3a3")

# outer border
p.add_layout(BoxAnnotation(left=dx(9.5), right=dx(1085.5), top=dy(5.5), bottom=dy(608.5),
                           fill_alpha=0, line_color="#c4c4c4", line_width=1))

open("out.html", "w").write(file_html(p, INLINE))
